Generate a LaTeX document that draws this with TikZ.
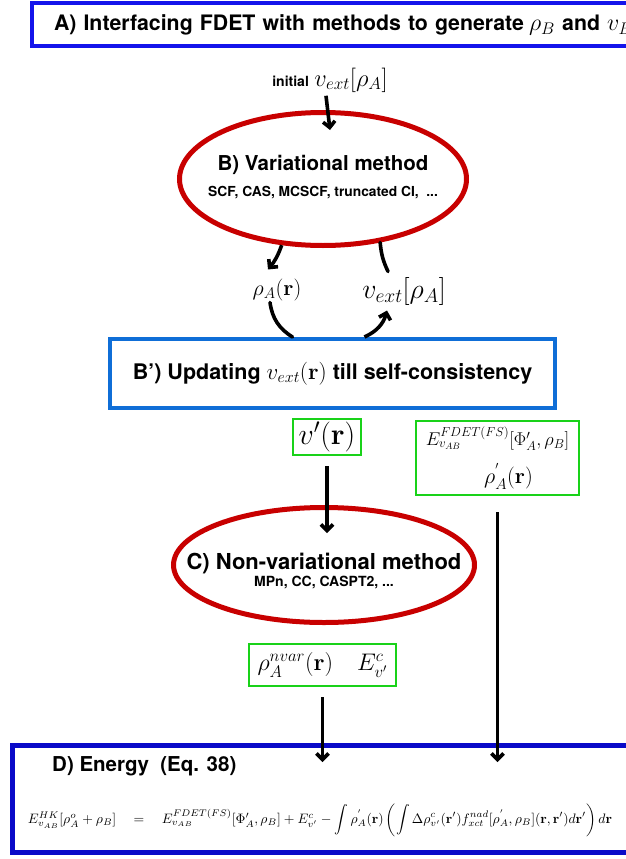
\RequirePackage{fix-cm}
\documentclass[tikz,border=0pt]{standalone}
\usepackage{amsmath}
\usepackage{graphicx}
\usepackage[no-math]{fontspec}
\setmainfont{TeX Gyre Heros}
\usetikzlibrary{shapes.geometric,positioning,arrows.meta}
\definecolor{titleblue}{RGB}{20,20,235}
\definecolor{energyblue}{RGB}{10,10,200}
\definecolor{updblue}{RGB}{15,110,215}
\definecolor{methred}{RGB}{200,0,0}
\definecolor{resgreen}{RGB}{25,210,25}
\def\fs#1{\fontsize{#1}{1.2\dimexpr#1pt\relax}\selectfont}
\def\br{\mathbf{r}}

\tikzset{
  bigbox/.style={draw, rectangle, line width=4pt, inner sep=0pt},
  methell/.style={draw=methred, ellipse, line width=5pt, inner sep=0pt},
  resbox/.style={draw=resgreen, rectangle, line width=2pt, align=center, inner sep=0pt},
  flow/.style={line width=3.6pt, -{Straight Barb[length=6pt,width=12pt,line width=3.6pt]}},
  flowline/.style={line width=3.6pt, line cap=round},
}

\begin{document}
\begin{tikzpicture}[node distance=100pt,on grid]
\clip (0pt,0pt) rectangle (626pt,-859pt);
\fill[white] (0pt,0pt) rectangle (626pt,-859pt);

\node[bigbox,draw=titleblue,anchor=west,inner xsep=22pt,minimum height=43pt,
      text width=640pt,align=left,font=\fs{21.3}\bfseries]
      (interf)  at (30pt,-25pt)     {A) Interfacing FDET with methods to generate\hspace{-2pt} {\fs{24}$\rho_B$} and {\fs{24}$v_B$}};
\node[methell,minimum width=287pt,minimum height=133pt,
      label={[align=center,yshift=2pt]center:{\fs{20.5}\bfseries B) Variational method}\\[10pt]{\fs{13.8}\bfseries SCF, CAS, MCSCF, truncated CI,\ \ ...}}]
      (vari)    at (323pt,-179pt)   {};
\node (initv)   [above right=99pt and 7pt of vari]          {{\fs{14}\bfseries initial}\ \ {\fs{24.5}$v_{ext}[\rho_A]$}};
\node (rhoA)    [below left=111pt and 46pt of vari]          {\fs{22}$\rho_A(\br)$};
\node (vextA)   [below right=112pt and 81pt of vari]         {\fs{28}$v_{ext}[\rho_A]$};
\node[bigbox,draw=updblue,minimum width=445pt,minimum height=69pt]
      (update)  [below right=194.5pt and 9.5pt of vari]      {\fs{21.5}\bfseries B') Updating {\fs{23}$v_{ext}(\br)$} till self-consistency};
\node[resbox,minimum width=68pt,minimum height=36pt]
      (vprime)  [below left=63.5pt and 5.5pt of update]      {\fs{30}$v'(\br)$};
\node[resbox,minimum width=163pt,minimum height=74pt]
      (efdet)   [below right=84.5pt and 165pt of update]     {\fs{18.5}$E^{FDET(FS)}_{v_{AB}}[\Phi'_A,\rho_B]$\\[12pt]
                                                              \hspace*{22pt}\fs{22}$\rho^{'}_A(\br)$};
\node[methell,minimum width=301pt,minimum height=115pt,
      label={[align=center,yshift=-6pt]center:{\fs{22}\bfseries C) Non-variational method}\\[2pt]{\fs{14}\bfseries MPn, CC, CASPT2, ...}}]
      (nonvar)  [below left=128pt and 3pt of vprime]         {};
\node[resbox,minimum width=147pt,minimum height=42pt]
      (nvar)    [below left=100pt and 1.5pt of nonvar]       {\fs{24}$\rho^{nvar}_A(\br)\quad E^c_{v'}$};
\node[bigbox,draw=energyblue,line width=5pt,anchor=west,minimum width=680pt,minimum height=107pt]
      (energy)  at (10pt,-799pt)                             {};
\node[anchor=west,inner sep=0pt,font=\fs{20.5}\bfseries]
      (enhead)  at (52pt,-766pt)                             {D) Energy\ \ (Eq. 38)};
\node (eqn)     at (320pt,-820pt)                            {\resizebox{584pt}{!}{$E^{HK}_{v_{AB}}[\rho^o_A+\rho_B]\quad=\quad
      E^{FDET(FS)}_{v_{AB}}[\Phi'_A,\rho_B]+E^c_{v'}-\displaystyle\int\rho^{'}_A(\br)\left(\int\Delta\rho^c_{v'}(\br')
      f^{nad}_{xct}[\rho^{'}_A,\rho_B](\br,\br')d\br'\right)d\br$}};

% main column
\draw[flow] ([xshift=-4pt]initv.south) -- ([yshift=-20pt]vari.north -| initv.south);
\draw[flow] ([yshift=-10pt]vprime.south) -- ([yshift=-28pt]nonvar.north -| vprime.south);
\draw[flow] ([yshift=-10pt]nvar.south) -- ([yshift=-19pt]energy.north -| nvar.south);
\draw[flow] ([yshift=-16pt]efdet.south) -- ([yshift=-19pt]energy.north -| efdet.south);

% self-consistency loop
\draw[flow]     (vari.238) to[bend left=10] ([xshift=-9pt,yshift=6pt]rhoA.north);
\draw[flowline] (vari.312) to[bend right=10] ([xshift=-16pt,yshift=2pt]vextA.north);
\draw[flowline] ([xshift=-7pt,yshift=2pt]rhoA.south) to[bend right=25] ([xshift=-40pt]update.north);
\draw[flow]     ([xshift=32pt]update.north) to[bend right=25] ([xshift=-17pt,yshift=-2pt]vextA.south);
\end{tikzpicture}
\end{document}
